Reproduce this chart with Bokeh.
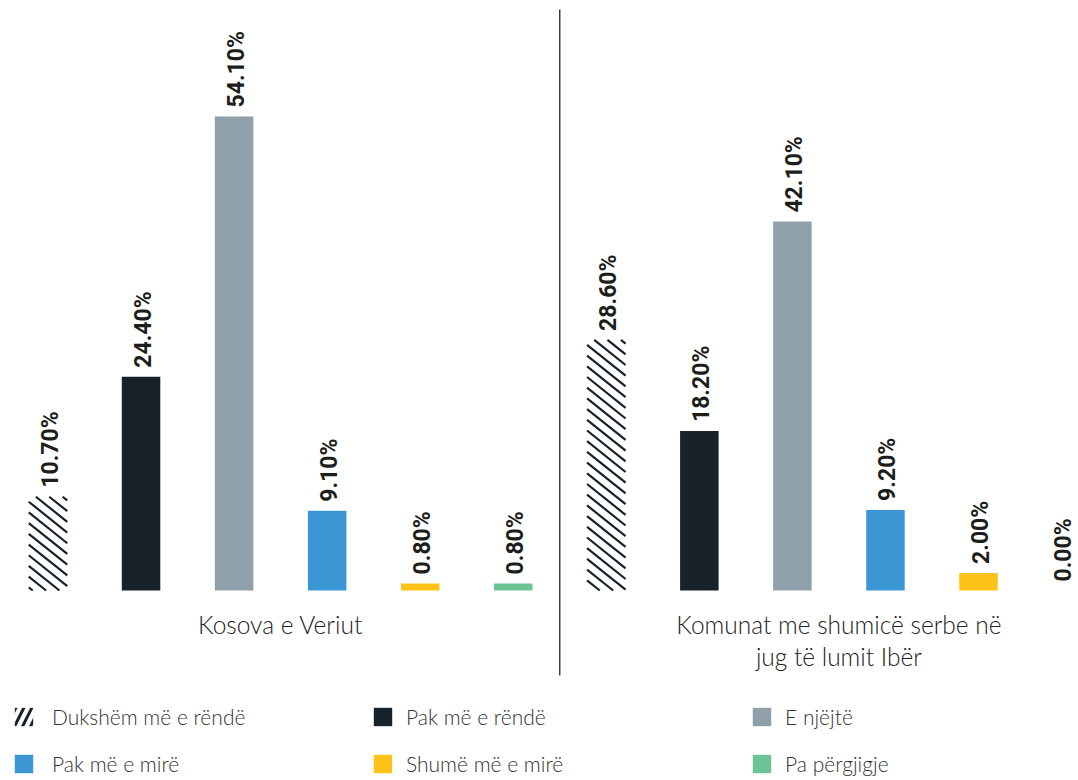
from bokeh.plotting import figure
from bokeh.models import Legend, LegendItem, Label, Range1d, ColumnDataSource
from bokeh.core.properties import value
from bokeh.embed import file_html
from bokeh.resources import INLINE

# ---- data ----
groups = ["Kosova e Veriut", "Komunat me shumicë serbe në\njug të lumit Ibër"]
categories = ["Dukshëm më e rëndë", "Pak më e rëndë", "E njëjtë",
              "Pak më e mirë", "Shumë më e mirë", "Pa përgjigje"]
kosova_veriut = [10.7, 24.4, 54.1, 9.1, 0.8, 0.8]
komunat_jug = [28.6, 18.2, 42.1, 9.2, 2.0, 0.0]
series = [kosova_veriut, komunat_jug]

colors = ["#ffffff", "#17222b", "#8fa0aa", "#3a97d3", "#fdc319", "#6bc493"]
DARK = "#17222b"
LIGHT_FONT = "Lato Light"

W, H = 1078, 780
PX = 93.05          # px per slot
PY = 8.762          # px per percent
x_start = -47.5 / PX
x_end = x_start + W / PX
y_start = -190 / PY
y_end = y_start + H / PY

p = figure(width=W, height=H, output_backend="svg", toolbar_location=None,
           x_range=Range1d(x_start, x_end), y_range=Range1d(y_start, y_end),
           x_axis_location=None, y_axis_location=None, min_border=0)
p.grid.visible = False
p.outline_line_color = None
p.background_fill_color = "white"
p.border_fill_color = "white"

ncat = len(categories)
BW = 38.5 / PX

renderers = []
for ci, cat in enumerate(categories):
    xs = [gi * ncat + ci for gi in range(len(groups))]
    tops = [series[gi][ci] for gi in range(len(groups))]
    src = ColumnDataSource(dict(x=xs, top=tops))
    r = p.vbar(x="x", top="top", width=BW, bottom=0, source=src,
               fill_color=colors[ci], line_color=None)
    renderers.append(r)

# back-slash hatching of the first category's bars, derived from the bar extents
SLOPE, PERIOD = 0.8, 10.7


def to_px_x(x):
    return (x - x_start) * PX


def to_px_y(y):
    return (y - y_start) * PY


hx0, hy0, hx1, hy1 = [], [], [], []
for gi in range(len(groups)):
    xc = gi * ncat + 0
    top = series[gi][0]
    xl, xr = to_px_x(xc - BW / 2), to_px_x(xc + BW / 2)
    yb, yt = to_px_y(0), to_px_y(top)
    c = yt + SLOPE * xl - 5
    c_min = yb + SLOPE * xl
    c_max = yt + SLOPE * xr
    while c < c_max:
        c += PERIOD
    while c > c_min:
        xa = max(xl, (c - yt) / SLOPE)
        xb = min(xr, (c - yb) / SLOPE)
        if xb > xa:
            hx0.append(x_start + xa / PX)
            hy0.append(y_start + (c - SLOPE * xa) / PY)
            hx1.append(x_start + xb / PX)
            hy1.append(y_start + (c - SLOPE * xb) / PY)
        c -= PERIOD
p.segment(x0=hx0, y0=hy0, x1=hx1, y1=hy1, line_color=DARK, line_width=2.2,
          line_cap="butt")

# value labels
lx, ly, lt, lo = [], [], [], []
for gi in range(len(groups)):
    for ci in range(ncat):
        v = series[gi][ci]
        xx = gi * ncat + ci
        lx.append(xx)
        ly.append(v)
        lt.append(f"{v:.2f}%")
        px_pos = to_px_x(xx)
        lo.append(2.5 if px_pos + 14 < W else -8)
lsrc = ColumnDataSource(dict(x=lx, y=ly, t=lt, xo=lo))
p.text(x="x", y="y", text="t", source=lsrc, angle=1.5708,
       x_offset="xo", y_offset=-9,
       text_font=value("Roboto"), text_font_style="bold",
       text_font_size="23px", text_color="#1d1d1b",
       text_align="left", text_baseline="middle")

# separator between the two groups
p.segment(x0=[ncat - 0.5], x1=[ncat - 0.5],
          y0=[y_start + 105 / PY], y1=[y_start + 771 / PY],
          line_color="#222222", line_width=1.3)

# group labels
for gi, g in enumerate(groups):
    for li, line in enumerate(g.split("\n")):
        p.add_layout(Label(x=gi * ncat + (ncat - 1) / 2, x_units="data",
                           y=156 - 32 * li, y_units="screen", text=line,
                           text_font=LIGHT_FONT, text_font_size="24.5px",
                           text_color="#222222", text_align="center",
                           text_baseline="middle"))

# legend: zero-height dummy renderer for the hatch icon
hatch_icon = p.vbar(x=[0], top=[0], bottom=[0], width=BW, fill_alpha=0,
                    line_color=None, hatch_pattern="/", hatch_color=DARK,
                    hatch_scale=16, hatch_weight=3)
leg_r = [hatch_icon] + renderers[1:]

cols = [[0, 3], [1, 4], [2, 5]]
col_x = [12, 371, 750]
standoff = [17, 12, 12]
for k, idxs in enumerate(cols):
    items = [LegendItem(label=categories[i], renderers=[leg_r[i]]) for i in idxs]
    leg = Legend(items=items, location=(col_x[k], 4), orientation="vertical",
                 padding=0, margin=0, spacing=22, glyph_width=23,
                 glyph_height=23, label_height=23, label_standoff=standoff[k],
                 label_text_font=LIGHT_FONT, label_text_font_size="21px",
                 label_text_color="#333333", border_line_alpha=0,
                 background_fill_alpha=0)
    p.add_layout(leg, "center")

open("out.html", "w").write(file_html(p, INLINE))
